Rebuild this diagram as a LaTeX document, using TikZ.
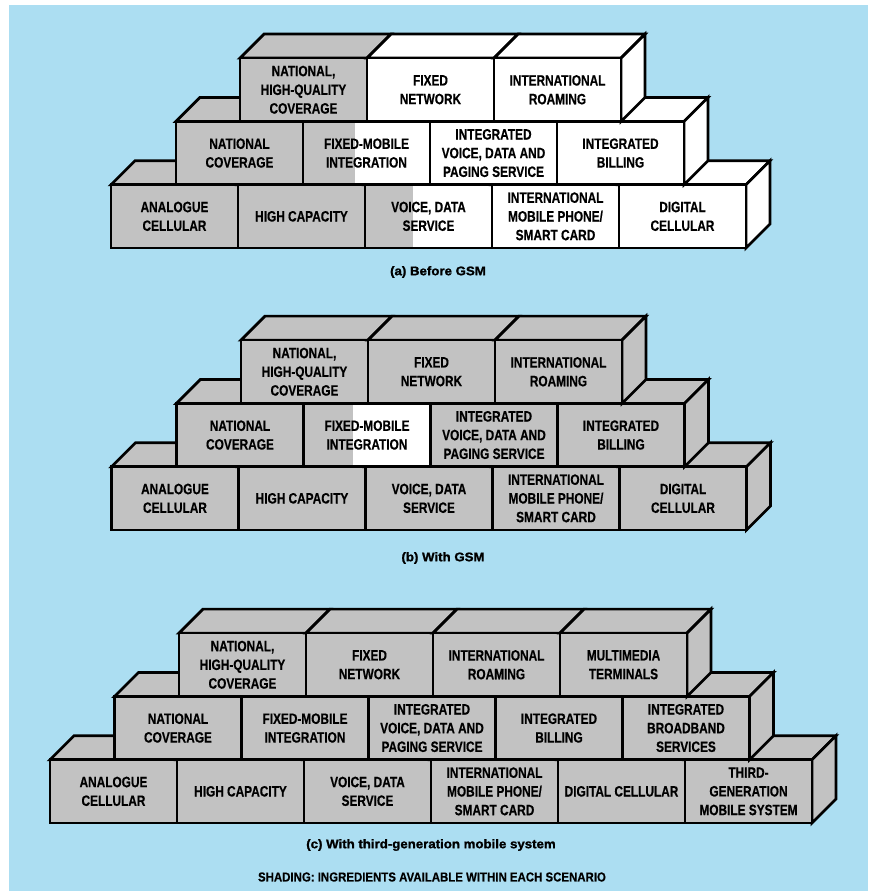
\documentclass[tikz,border=0pt]{standalone}
\usepackage{fontspec}
\newfontfamily\boxfont[FakeStretch=0.79, BoldFeatures={FakeBold=0.4}]{Liberation Sans}
\newfontfamily\capfont[FakeStretch=1.06, BoldFeatures={FakeBold=1.4}]{Liberation Sans}
\newfontfamily\notefont[FakeStretch=0.88, BoldFeatures={FakeBold=0.3}]{Liberation Sans}
\definecolor{bgblue}{RGB}{172,222,242}
\definecolor{shadegrey}{RGB}{194,194,194}
\def\bw{127}
\def\bh{63.3}
\def\dd{24}
\tikzset{
  boxtext/.style={font=\boxfont\bfseries\fontsize{15}{18.7}\selectfont, align=center, inner sep=0pt, text=black},
  captext/.style={font=\capfont\bfseries\fontsize{12.5}{15}\selectfont, inner sep=0pt, text=black},
  notetext/.style={font=\notefont\bfseries\fontsize{13}{15}\selectfont, inner sep=0pt, text=black},
  edge/.style={draw=black, line width=2.7pt, line join=miter}
}
% #1 name, #2 x, #3 y of front top, #4 grey width of front, #5 top/side colour, #6 side (1/0), #7 text
\newcommand\brick[7]{%
  \filldraw[edge, fill=#5] (#2,#3) -- ++(\dd,-\dd) -- ++(\bw,0) -- ++(-\dd,\dd) -- cycle;
  \ifnum#6=1 \filldraw[edge, fill=#5] (#2+\bw,#3) -- ++(\dd,-\dd) -- ++(0,\bh) -- ++(-\dd,\dd) -- cycle;\fi
  \fill[white] (#2,#3) rectangle ++(\bw,\bh);
  \fill[shadegrey] (#2,#3) rectangle ++(#4,\bh);
  \draw[edge] (#2,#3) rectangle ++(\bw,\bh);
  \node[boxtext] (#1) at (#2+\bw/2,#3+\bh/2) {#7};
}
\begin{document}
\begin{tikzpicture}[x=1pt,y=-1pt]
\useasboundingbox (0,0) rectangle (868,891);
\fill[white] (0,0) rectangle (868,891);
\fill[bgblue] (9,5) rectangle (868,891);

% ---------- (a) Before GSM ----------
\brick{a11}{111}{184.7}{127}{shadegrey}{0}{ANALOGUE\\CELLULAR}
\brick{a12}{238}{184.7}{127}{shadegrey}{0}{HIGH CAPACITY}
\brick{a13}{365}{184.7}{48}{white}{0}{VOICE, DATA\\SERVICE}
\brick{a14}{492}{184.7}{0}{white}{0}{INTERNATIONAL\\MOBILE PHONE/\\SMART CARD}
\brick{a15}{619}{184.7}{0}{white}{1}{DIGITAL\\CELLULAR}
\brick{a21}{176}{121.4}{127}{shadegrey}{0}{NATIONAL\\COVERAGE}
\brick{a22}{303}{121.4}{52}{white}{0}{FIXED-MOBILE\\INTEGRATION}
\brick{a23}{430}{121.4}{0}{white}{0}{INTEGRATED\\VOICE, DATA AND\\PAGING SERVICE}
\brick{a24}{557}{121.4}{0}{white}{1}{INTEGRATED\\BILLING}
\brick{a31}{240}{58.1}{127}{shadegrey}{0}{NATIONAL,\\HIGH-QUALITY\\COVERAGE}
\brick{a32}{367}{58.1}{0}{white}{0}{FIXED\\NETWORK}
\brick{a33}{494}{58.1}{0}{white}{1}{INTERNATIONAL\\ROAMING}
\node[captext] (capa) at (438,272) {(a) Before GSM};

% ---------- (b) With GSM ----------
\brick{b11}{111.5}{466.7}{127}{shadegrey}{0}{ANALOGUE\\CELLULAR}
\brick{b12}{238.5}{466.7}{127}{shadegrey}{0}{HIGH CAPACITY}
\brick{b13}{365.5}{466.7}{127}{shadegrey}{0}{VOICE, DATA\\SERVICE}
\brick{b14}{492.5}{466.7}{127}{shadegrey}{0}{INTERNATIONAL\\MOBILE PHONE/\\SMART CARD}
\brick{b15}{619.5}{466.7}{127}{shadegrey}{1}{DIGITAL\\CELLULAR}
\brick{b21}{176.5}{403.4}{127}{shadegrey}{0}{NATIONAL\\COVERAGE}
\brick{b22}{303.5}{403.4}{49}{shadegrey}{0}{FIXED-MOBILE\\INTEGRATION}
\brick{b23}{430.5}{403.4}{127}{shadegrey}{0}{INTEGRATED\\VOICE, DATA AND\\PAGING SERVICE}
\brick{b24}{557.5}{403.4}{127}{shadegrey}{1}{INTEGRATED\\BILLING}
\brick{b31}{241}{340.1}{127}{shadegrey}{0}{NATIONAL,\\HIGH-QUALITY\\COVERAGE}
\brick{b32}{368}{340.1}{127}{shadegrey}{0}{FIXED\\NETWORK}
\brick{b33}{495}{340.1}{127}{shadegrey}{1}{INTERNATIONAL\\ROAMING}
\node[captext] (capb) at (443,558) {(b) With GSM};

% ---------- (c) With third-generation mobile system ----------
\brick{c11}{50}{759.7}{127}{shadegrey}{0}{ANALOGUE\\CELLULAR}
\brick{c12}{177}{759.7}{127}{shadegrey}{0}{HIGH CAPACITY}
\brick{c13}{304}{759.7}{127}{shadegrey}{0}{VOICE, DATA\\SERVICE}
\brick{c14}{431}{759.7}{127}{shadegrey}{0}{INTERNATIONAL\\MOBILE PHONE/\\SMART CARD}
\brick{c15}{558}{759.7}{127}{shadegrey}{0}{DIGITAL CELLULAR}
\brick{c16}{685}{759.7}{127}{shadegrey}{1}{THIRD-\\GENERATION\\MOBILE SYSTEM}
\brick{c21}{114.5}{696.4}{127}{shadegrey}{0}{NATIONAL\\COVERAGE}
\brick{c22}{241.5}{696.4}{127}{shadegrey}{0}{FIXED-MOBILE\\INTEGRATION}
\brick{c23}{368.5}{696.4}{127}{shadegrey}{0}{INTEGRATED\\VOICE, DATA AND\\PAGING SERVICE}
\brick{c24}{495.5}{696.4}{127}{shadegrey}{0}{INTEGRATED\\BILLING}
\brick{c25}{622.5}{696.4}{127}{shadegrey}{1}{INTEGRATED\\BROADBAND\\SERVICES}
\brick{c31}{179}{633.1}{127}{shadegrey}{0}{NATIONAL,\\HIGH-QUALITY\\COVERAGE}
\brick{c32}{306}{633.1}{127}{shadegrey}{0}{FIXED\\NETWORK}
\brick{c33}{433}{633.1}{127}{shadegrey}{0}{INTERNATIONAL\\ROAMING}
\brick{c34}{560}{633.1}{127}{shadegrey}{1}{MULTIMEDIA\\TERMINALS}
\node[captext] (capc) at (431,845) {(c) With third-generation mobile system};

\node[notetext] (note) at (432,877) {SHADING: INGREDIENTS AVAILABLE WITHIN EACH SCENARIO};
\end{tikzpicture}
\end{document}
